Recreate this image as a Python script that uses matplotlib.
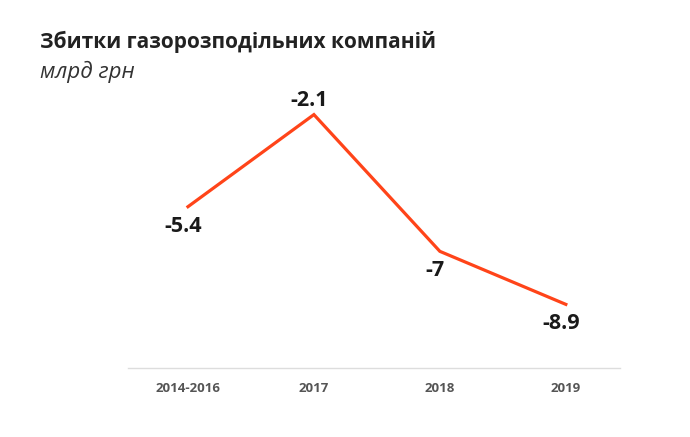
import matplotlib
matplotlib.use('Agg')
import matplotlib.pyplot as plt

# data
periods = ['2014-2016', '2017', '2018', '2019']
losses = [-5.4, -2.1, -7.0, -8.9]
value_labels = ['-5.4', '-2.1', '-7', '-8.9']
# label placed above (1) or below (-1) the point
label_side = [-1, 1, -1, -1]

plt.rcParams['font.family'] = ['Open Sans', 'DejaVu Sans']

fig = plt.figure(figsize=(6.9, 4.37), dpi=100)
ax = fig.add_axes([128 / 690, 69 / 437, 492 / 690, 312 / 437])

x = list(range(len(periods)))
ax.plot(x, losses, color='#ff4419', linewidth=2.3, solid_joinstyle='miter')

for xi, yi, lab, side in zip(x, losses, value_labels, label_side):
    dy = 10 if side > 0 else -14
    ax.annotate(lab, (xi, yi), xytext=(-3.5, dy), textcoords='offset points',
                ha='center', va='center', fontsize=15.5, fontweight='bold',
                color='#1a1a1a')

ax.set_xlim(-0.476, 3.43)
ax.set_ylim(-11.18, 0)
ax.set_xticks(x)
ax.set_xticklabels(periods, fontsize=9.5, fontweight='bold', color='#555555')
ax.tick_params(axis='x', length=0, pad=10)
ax.set_yticks([])
for s in ['top', 'right', 'left']:
    ax.spines[s].set_visible(False)
ax.spines['bottom'].set_color('#dddddd')
ax.spines['bottom'].set_linewidth(1)

fig.text(40 / 690, 1 - 42 / 437, 'Збитки газорозподільних компаній', fontsize=15,
         fontweight='bold', color='#222222', va='center')
fig.text(40 / 690, 1 - 72 / 437, 'млрд грн', fontsize=16, style='italic',
         color='#333333', va='center')

plt.savefig('out.png', dpi=100)
